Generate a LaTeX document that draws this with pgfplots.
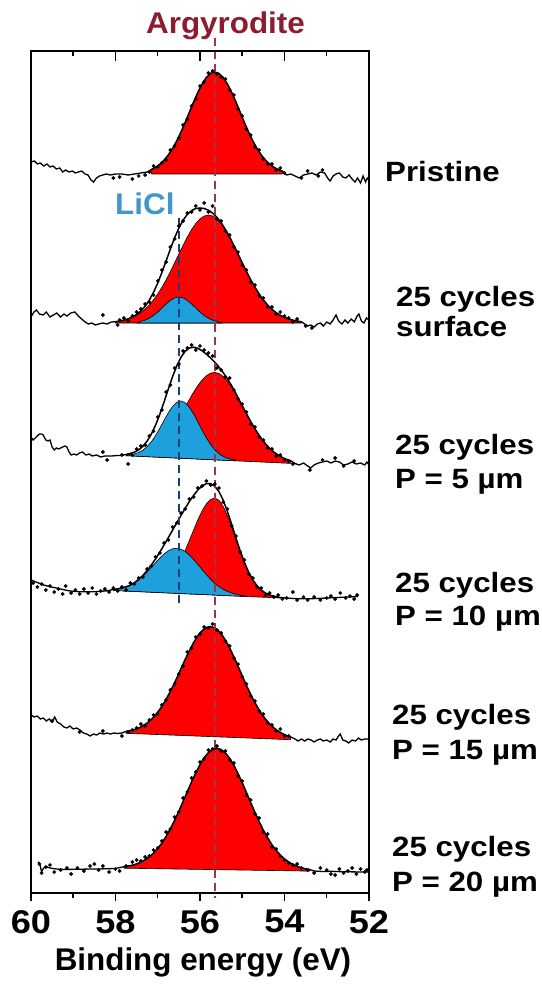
\documentclass[border=0pt]{standalone}
\usepackage{pgfplots}
\pgfplotsset{compat=1.18}
\usepackage{fontspec}
\setmainfont{Liberation Sans}
\newfontfamily\tickfont{Liberation Sans}[FakeStretch=1.1]
\newfontfamily\rlabfont{Liberation Sans}[FakeStretch=1.12]
\newfontfamily\annfont{Liberation Sans}[FakeStretch=1.05]
\definecolor{xred}{RGB}{255,0,0}
\definecolor{xblue}{RGB}{30,160,220}
\definecolor{argytext}{RGB}{140,28,46}
\definecolor{argyline}{RGB}{160,52,72}
\definecolor{licltext}{RGB}{65,150,206}
\definecolor{licline}{RGB}{30,60,120}
\pgfplotsset{
 fitline/.style={black, line width=1.5bp, mark=none},
 noiseline/.style={black, line width=1.3bp, mark=none},
 dots/.style={only marks, mark=*, mark size=1.7bp, black},
 redfill/.style={fill=xred, draw=black, line width=0.6bp, mark=none},
 bluefill/.style={fill=xblue, draw=black, line width=0.6bp, mark=none},
}
\begin{document}
\begin{tikzpicture}
\useasboundingbox (0,0) rectangle (542bp,989bp);
\begin{axis}[
 at={(31bp,96bp)}, anchor=south west,
 scale only axis, width=338bp, height=842bp,
 x dir=reverse, y dir=reverse,
 xmin=52, xmax=60, ymin=51, ymax=893,
 xtick={52,54,56,58,60}, minor x tick num=1,
 xtick pos=bottom, tick align=outside,
 ytick=\empty,
 major tick length=8bp, minor tick length=5bp,
 axis line style={line width=1.5bp},
 every tick/.style={black, line width=1.5bp},
 xticklabel style={font=\tickfont\bfseries\fontsize{33}{33}\selectfont, inner sep=0pt, yshift=-9bp},
 /pgf/number format/assume math mode=true,
 clip=false,
]
% ================= Spectrum 1: Pristine =================
\addplot[redfill] table {
x y
57.15 174
57.15 169.5
57.05 167.3
56.95 164.2
56.85 160.2
56.75 155.0
56.65 148.6
56.55 140.9
56.45 132.1
56.35 122.4
56.25 112.1
56.15 101.9
56.05 92.3
55.95 84.0
55.85 77.5
55.75 73.4
55.65 72.0
55.55 73.4
55.45 77.5
55.35 84.0
55.25 92.3
55.15 101.9
55.05 112.1
54.95 122.4
54.85 132.1
54.75 140.9
54.65 148.6
54.55 155.0
54.45 160.2
54.35 164.2
54.25 167.3
54.15 169.5
54.05 171.1
54.05 174
57.15 174
};
\addplot[noiseline] table {
x y
60.00 162
59.92 161
59.85 164
59.78 163
59.70 166
59.62 164
59.55 167
59.48 166
59.40 169
59.32 168
59.25 172
59.18 170
59.10 172
59.02 171
58.95 173
58.88 172
58.80 171
58.72 174
58.65 175
58.58 180
58.52 182
58.45 178
58.38 176
58.30 175
58.22 174
58.12 175
58.00 174
57.85 174
57.70 175
57.55 174
57.40 173
57.25 172
57.15 169.5
};
\addplot[fitline] table {
x y
57.15 169.5
57.05 167.3
56.95 164.2
56.85 160.2
56.75 155.0
56.65 148.6
56.55 140.9
56.45 132.1
56.35 122.4
56.25 112.1
56.15 101.9
56.05 92.3
55.95 84.0
55.85 77.5
55.75 73.4
55.65 72.0
55.55 73.4
55.45 77.5
55.35 84.0
55.25 92.3
55.15 101.9
55.05 112.1
54.95 122.4
54.85 132.1
54.75 140.9
54.65 148.6
54.55 155.0
54.45 160.2
54.35 164.2
54.25 167.3
54.15 169.5
54.05 171.1
};
\addplot[noiseline] table {
x y
54.05 171.1
53.95 175
53.85 174
53.75 176
53.65 178
53.55 175
53.45 174
53.35 173
53.25 175
53.15 172
53.05 173
52.98 178
52.92 181
52.85 176
52.78 174
52.70 173
52.62 177
52.55 178
52.47 175
52.40 179
52.33 182
52.27 178
52.20 183
52.14 176
52.08 182
52.04 178
52.00 180
};
\addplot[dots] table {
x y
58.05 178
57.90 177
57.60 179
57.45 176
57.30 175
57.20 172
57.10 166
57.00 167
56.90 163
56.80 160
56.70 150
56.60 146
56.50 138
56.40 125
56.30 119
56.20 106
56.10 99
56.00 86
55.90 82
55.80 73
55.70 71
55.60 74
55.50 77
55.40 79
55.30 90
55.20 95
55.10 109
55.00 116
54.90 129
54.80 135
54.70 147
54.60 150
54.50 159
54.40 164
54.30 164
54.20 170
54.10 168
54.00 173
53.60 178
53.45 171
53.20 176
53.10 170
};
% ================= Spectrum 2: surface =================
\addplot[redfill] table {
x y
58.0 323
58.0 321.7
57.9 321.1
57.8 320.2
57.7 319.0
57.6 317.4
57.5 315.3
57.4 312.6
57.3 309.2
57.2 305.0
57.1 299.9
57.0 294.0
56.9 287.2
56.8 279.7
56.7 271.5
56.6 262.8
56.5 254.0
56.4 245.3
56.3 237.0
56.2 229.7
56.1 223.5
56.0 218.9
55.9 216.0
55.8 215.0
55.7 216.0
55.6 218.9
55.5 223.5
55.4 229.7
55.3 237.0
55.2 245.3
55.1 254.0
55.0 262.8
54.9 271.5
54.8 279.7
54.7 287.2
54.6 294.0
54.5 299.9
54.4 305.0
54.3 309.2
54.2 312.6
54.1 315.3
54.0 317.4
53.9 319.0
53.8 320.2
53.7 321.1
53.6 321.7
53.6 323
58.0 323
};
\addplot[bluefill] table {
x y
57.5 323
57.4 321.4
57.3 320.2
57.2 318.2
57.1 315.5
57.0 312.1
56.9 308.0
56.8 304.0
56.7 300.4
56.6 297.9
56.5 297.0
56.4 297.9
56.3 300.4
56.2 304.0
56.1 308.0
56.0 312.1
55.9 315.5
55.8 318.2
55.7 320.2
55.6 321.4
55.5 323
57.5 323
};
\addplot[noiseline] table {
x y
60.00 317
59.93 312
59.87 310
59.80 314
59.71 315
59.64 312
59.55 317
59.47 315
59.39 313
59.30 317
59.22 314
59.15 316
59.06 313
58.96 312
58.88 316
58.80 319
58.72 322
58.64 324
58.56 323
58.48 325
58.40 324
58.30 323
58.20 324
58.10 322
58.00 321.7
};
\addplot[fitline] table {
x y
58.0 321.7
57.9 321.1
57.8 320.2
57.7 318.8
57.6 317.0
57.5 314.5
57.4 311.0
57.3 306.4
57.2 300.2
57.1 292.4
57.0 283.1
56.9 272.2
56.8 260.7
56.7 248.9
56.6 237.7
56.5 228.0
56.4 220.2
56.3 214.4
56.2 210.7
56.1 208.5
56.0 208.0
55.9 208.5
55.8 210.2
55.7 213.2
55.6 217.3
55.5 222.7
55.4 229.3
55.3 237.0
55.2 245.3
55.1 254.0
55.0 262.8
54.9 271.5
54.8 279.7
54.7 287.2
54.6 294.0
54.5 299.9
54.4 305.0
54.3 309.2
54.2 312.6
54.1 315.3
54.0 317.4
53.9 319.0
53.8 320.2
53.7 321.1
53.6 321.7
};
\addplot[noiseline] table {
x y
53.60 321.7
53.52 324
53.45 326
53.38 325
53.30 327
53.22 324
53.15 323
53.08 326
53.00 322
52.92 324
52.85 320
52.78 315
52.72 321
52.64 324
52.57 320
52.50 323
52.42 319
52.35 322
52.28 316
52.24 314
52.18 321
52.12 323
52.06 318
52.00 320
};
\addplot[dots] table {
x y
58.30 315
57.95 325
57.90 320
57.80 318
57.70 321
57.60 316
57.50 312
57.40 309
57.30 304
57.20 302
57.10 295
57.00 281
56.90 270
56.80 262
56.70 247
56.60 239
56.50 226
56.40 221
56.30 213
56.20 212
56.10 206
56.00 210
55.90 203
55.80 212
55.70 206
55.60 219
55.50 221
55.40 231
55.30 235
55.20 247
55.10 252
55.00 265
54.90 270
54.80 282
54.70 285
54.60 296
54.50 298
54.40 307
54.30 307
54.20 314
54.10 312
54.00 316
53.90 318
53.80 322
53.70 319
53.50 326
53.35 328
};
% ================= Spectrum 3: P = 5 um =================
\addplot[redfill] table {
x y
57.75 455.7
57.75 455.0
57.65 454.7
57.55 454.3
57.45 453.7
57.35 452.7
57.25 451.2
57.15 449.2
57.05 446.6
56.95 443.2
56.85 439.1
56.75 434.0
56.65 428.2
56.55 421.7
56.45 414.5
56.35 407.0
56.25 399.4
56.15 392.1
56.05 385.5
55.95 379.9
55.85 375.7
55.75 373.1
55.65 372.4
55.55 373.5
55.45 376.5
55.35 381.0
55.25 387.0
55.15 394.0
55.05 401.7
54.95 409.7
54.85 417.6
54.75 425.2
54.65 432.1
54.55 438.3
54.45 443.8
54.35 448.3
54.25 452.1
54.15 455.1
54.05 457.5
53.95 459.4
53.85 460.8
53.85 463.4
57.75 455.7
};
\addplot[bluefill] table {
x y
57.75 455.7
57.75 455.1
57.65 454.7
57.55 453.9
57.45 452.5
57.35 450.1
57.25 446.5
57.15 441.7
57.05 435.5
56.95 428.2
56.85 420.3
56.75 412.8
56.65 406.5
56.55 402.3
56.45 401.0
56.35 402.7
56.25 407.3
56.15 414.0
56.05 421.9
55.95 430.2
55.85 437.9
55.75 444.5
55.65 449.7
55.55 453.7
55.45 456.5
55.35 458.2
55.25 459.4
55.15 460.2
55.15 460.8
57.75 455.7
};
\addplot[noiseline] table {
x y
60.00 437
59.95 440
59.90 438
59.85 436
59.80 434
59.75 434
59.71 435
59.65 440
59.60 441
59.55 440
59.50 447
59.45 450
59.40 448
59.35 449
59.30 448
59.25 447
59.20 446
59.15 447
59.10 452
59.05 455
58.98 454
58.92 455
58.85 453
58.78 452
58.70 455
58.62 454
58.55 456
58.45 455
58.35 457
58.25 456
58.10 456
57.95 455.5
57.85 455.5
57.75 454.4
};
\addplot[fitline] table {
x y
57.75 454.4
57.65 453.5
57.55 452.1
57.45 449.9
57.35 446.3
57.25 441.0
57.15 434.0
57.05 425.0
56.95 414.1
56.85 401.9
56.75 389.1
56.65 376.8
56.55 365.9
56.45 357.2
56.35 351.2
56.25 348.0
56.15 347.2
56.05 348.3
55.95 350.8
55.85 354.1
55.75 357.9
55.65 362.2
55.55 367.1
55.45 372.7
55.35 378.8
55.25 385.8
55.15 393.4
55.05 401.7
54.95 409.7
54.85 417.6
54.75 425.2
54.65 432.1
54.55 438.3
54.45 443.8
54.35 448.3
54.25 452.1
54.15 455.1
54.05 457.5
53.95 459.4
53.85 460.8
};
\addplot[noiseline] table {
x y
53.85 460.8
53.75 463.5
53.65 465
53.55 463
53.45 466
53.38 468
53.30 465
53.20 463
53.10 462
53.00 461
52.90 463
52.80 461
52.70 462
52.60 465
52.50 464
52.40 462
52.30 464
52.20 463
52.10 465
52.05 462
52.00 465
};
\addplot[dots] table {
x y
58.30 452
58.20 460
57.85 455
57.70 464
57.60 455
57.50 449
57.40 446
57.30 445
57.20 436
57.10 431
57.00 417
56.90 410
56.80 392
56.70 385
56.60 368
56.50 364
56.40 351
56.30 348
56.20 345
56.10 350
56.00 346
55.90 350
55.80 353
55.70 356
55.60 368
55.50 370
55.40 377
55.30 378
55.20 390
55.10 399
55.00 404
54.90 412
54.80 424
54.70 427
54.60 437
54.50 440
54.40 448
54.30 449
54.20 456
54.10 455
54.00 460
53.90 461
53.80 464
53.40 470
53.10 460
52.80 458
52.60 466
52.35 461
};
% ================= Spectrum 4: P = 10 um =================
\addplot[redfill] table {
x y
57.85 590.9
57.85 590.8
57.65 591.2
57.45 591.2
57.35 591.1
57.25 590.6
57.15 589.8
57.05 588.6
56.95 586.7
56.85 583.8
56.75 579.9
56.65 574.6
56.55 567.9
56.45 559.9
56.35 550.5
56.25 540.3
56.15 529.9
56.05 519.8
55.95 510.8
55.85 503.8
55.75 499.4
55.65 498.0
55.55 500.3
55.45 506.4
55.35 515.7
55.25 527.2
55.15 539.6
55.05 551.7
54.95 562.9
54.85 572.4
54.75 580.1
54.65 585.9
54.55 590.1
54.45 593.0
54.35 595.0
54.25 596.3
54.15 597.2
54.05 597.7
54.05 598.1
57.85 590.9
};
\addplot[bluefill] table {
x y
58.05 590.5
58.05 589.4
57.95 588.9
57.85 588.1
57.75 586.9
57.65 585.2
57.55 582.9
57.45 579.9
57.35 576.2
57.25 571.9
57.15 567.3
57.05 562.6
56.95 558.0
56.85 553.9
56.75 550.8
56.65 548.8
56.55 548.3
56.45 549.2
56.35 551.5
56.25 555.0
56.15 559.5
56.05 564.5
55.95 569.6
55.85 574.6
55.75 579.2
55.65 583.3
55.55 586.7
55.45 589.3
55.35 591.4
55.25 593.0
55.15 594.2
55.05 595.1
54.95 595.7
54.95 596.4
58.05 590.5
};
\addplot[noiseline] table {
x y
60.00 580
59.85 582.5
59.70 585
59.55 586.7
59.40 588
59.25 589.5
59.10 590.8
58.95 591.5
58.80 591.8
58.60 591.8
58.40 591.5
58.20 590.8
58.05 589.4
};
\addplot[fitline] table {
x y
58.05 589.4
57.95 588.9
57.85 588.0
57.75 586.8
57.65 585.1
57.55 582.6
57.45 579.4
57.35 575.4
57.25 570.5
57.15 564.9
57.05 558.8
56.95 552.1
56.85 544.9
56.75 537.7
56.65 530.2
56.55 522.8
56.45 515.5
56.35 508.3
56.25 501.4
56.15 495.3
56.05 490.0
55.95 485.9
55.85 483.7
55.75 483.7
55.65 486.2
55.55 491.7
55.45 500.3
55.35 511.5
55.25 524.4
55.15 537.8
55.05 550.6
54.95 562.2
54.85 572.0
54.75 579.9
54.65 585.8
54.55 590.1
54.45 593.0
54.35 595.0
54.25 596.3
54.15 597.2
54.05 597.7
};
\addplot[noiseline] table {
x y
54.05 597.7
53.80 598.5
53.60 598.8
53.40 598.8
53.20 598.4
53.00 598
52.80 597.6
52.60 597.2
52.40 596.8
52.26 596.5
};
\addplot[dots] table {
x y
59.95 583
59.85 587
59.75 584
59.65 590
59.55 586
59.45 592
59.35 589
59.25 594
59.18 586
59.05 593
58.95 590
58.85 594
58.75 589
58.65 593
58.55 588
58.45 594
58.35 591
58.25 589
58.15 592
58.05 588
57.95 591
57.85 587
57.75 590
57.65 583
57.55 584
57.45 578
57.35 577
57.25 569
57.15 566
57.05 557
56.95 553
56.85 543
56.75 540
56.65 527
56.55 523
56.45 513
56.35 509
56.25 499
56.15 497
56.05 488
55.95 486
55.85 481
55.75 485
55.65 484
55.55 488
55.45 502
55.35 509
55.25 526
55.15 536
55.05 552
54.95 560
54.85 574
54.75 578
54.65 587
54.55 588
54.45 595
54.35 593
54.25 597
54.15 595
54.05 599
53.95 598
53.80 592
53.70 600
53.55 597
53.45 600
53.30 597
53.15 600
53.00 598
52.90 596
52.80 599
52.68 593
52.55 598
52.45 596
52.35 599
52.28 595
};
% ================= Spectrum 5: P = 15 um =================
\addplot[redfill] table {
x y
57.75 733.3
57.75 731.4
57.65 730.6
57.55 729.6
57.45 728.0
57.35 725.8
57.25 723.0
57.15 719.4
57.05 714.8
56.95 709.3
56.85 702.8
56.75 695.3
56.65 687.0
56.55 678.1
56.45 668.7
56.35 659.4
56.25 650.6
56.15 642.5
56.05 635.7
55.95 630.7
55.85 627.5
55.75 626.6
55.65 627.9
55.55 631.3
55.45 636.7
55.35 643.8
55.25 652.2
55.15 661.4
55.05 671.0
54.95 680.7
54.85 690.0
54.75 698.6
54.65 706.4
54.55 713.3
54.45 719.1
54.35 724.0
54.25 728.0
54.15 731.1
54.05 733.6
53.95 735.6
53.85 736.9
53.85 739.7
57.75 733.3
};
\addplot[noiseline] table {
x y
60.00 715
59.92 717
59.85 716
59.78 719
59.71 718
59.64 721
59.57 719
59.50 722
59.44 717
59.38 722
59.30 724
59.22 727
59.15 728
59.08 726
59.00 729
58.92 728
58.84 730
58.76 733
58.68 734
58.60 736
58.52 734
58.45 735
58.37 733
58.28 734
58.20 733
58.12 734
58.04 733
57.95 733.5
57.85 733
57.75 731.4
};
\addplot[fitline] table {
x y
57.75 731.4
57.65 730.6
57.55 729.6
57.45 728.0
57.35 725.8
57.25 723.0
57.15 719.4
57.05 714.8
56.95 709.3
56.85 702.8
56.75 695.3
56.65 687.0
56.55 678.1
56.45 668.7
56.35 659.4
56.25 650.6
56.15 642.5
56.05 635.7
55.95 630.7
55.85 627.5
55.75 626.6
55.65 627.9
55.55 631.3
55.45 636.7
55.35 643.8
55.25 652.2
55.15 661.4
55.05 671.0
54.95 680.7
54.85 690.0
54.75 698.6
54.65 706.4
54.55 713.3
54.45 719.1
54.35 724.0
54.25 728.0
54.15 731.1
54.05 733.6
53.95 735.6
53.85 736.9
};
\addplot[noiseline] table {
x y
53.85 736.9
53.75 739
53.68 741
53.60 739
53.52 741
53.45 739
53.37 740
53.30 742
53.22 740
53.15 739
53.08 741
53.00 740
52.92 742
52.85 739
52.78 740
52.72 736
52.68 734
52.62 740
52.55 741
52.48 743
52.40 740
52.32 741
52.25 738
52.18 740
52.10 739
52.00 739
};
\addplot[dots] table {
x y
59.50 721
58.85 732
58.30 731
57.85 736
57.70 732
57.60 730
57.50 728
57.40 724
57.30 726
57.20 720
57.10 715
57.00 714
56.90 705
56.80 700
56.70 690
56.60 684
56.50 674
56.40 666
56.30 652
56.20 648
56.10 637
56.00 634
55.90 627
55.80 628
55.70 624
55.60 630
55.50 633
55.40 641
55.30 646
55.20 658
55.10 664
55.00 677
54.90 684
54.80 696
54.70 701
54.60 711
54.50 714
54.40 723
54.30 725
54.20 731
54.10 729
54.00 736
53.90 736
};
% ================= Spectrum 6: P = 20 um =================
\addplot[redfill] table {
x y
57.8 868.2
57.8 866.7
57.7 866.1
57.6 865.2
57.5 863.9
57.4 862.2
57.3 859.8
57.2 856.9
57.1 853.1
57.0 848.4
56.9 842.9
56.8 836.3
56.7 828.7
56.6 820.3
56.5 811.1
56.4 801.5
56.3 791.7
56.2 781.9
56.1 772.8
56.0 764.6
55.9 757.7
55.8 752.6
55.7 749.4
55.6 748.3
55.5 749.5
55.4 752.9
55.3 758.1
55.2 765.1
55.1 773.5
55.0 782.7
54.9 792.6
54.8 802.6
54.7 812.3
54.6 821.6
54.5 830.2
54.4 837.8
54.3 844.6
54.2 850.2
54.1 855.0
54.0 859.0
53.9 862.0
53.8 864.5
53.7 866.4
53.6 867.8
53.5 868.8
53.4 869.6
53.4 871.1
57.8 868.2
};
\addplot[noiseline] table {
x y
59.83 861.7
59.78 866
59.75 871.7
59.70 868
59.65 866.7
59.55 868
59.40 869
59.20 869.5
59.00 869.3
58.80 869.2
58.60 869
58.40 869
58.20 868.7
58.00 868.5
57.80 866.7
};
\addplot[fitline] table {
x y
57.8 866.7
57.7 866.1
57.6 865.2
57.5 863.9
57.4 862.2
57.3 859.8
57.2 856.9
57.1 853.1
57.0 848.4
56.9 842.9
56.8 836.3
56.7 828.7
56.6 820.3
56.5 811.1
56.4 801.5
56.3 791.7
56.2 781.9
56.1 772.8
56.0 764.6
55.9 757.7
55.8 752.6
55.7 749.4
55.6 748.3
55.5 749.5
55.4 752.9
55.3 758.1
55.2 765.1
55.1 773.5
55.0 782.7
54.9 792.6
54.8 802.6
54.7 812.3
54.6 821.6
54.5 830.2
54.4 837.8
54.3 844.6
54.2 850.2
54.1 855.0
54.0 859.0
53.9 862.0
53.8 864.5
53.7 866.4
53.6 867.8
53.5 868.8
53.4 869.6
};
\addplot[noiseline] table {
x y
53.40 869.6
53.30 871
53.10 871.5
52.90 871.3
52.70 871.6
52.50 871.8
52.30 871.9
52.10 872
52.00 872
};
\addplot[dots] table {
x y
59.80 864
59.75 873
59.65 867
59.55 865
59.45 872
59.30 870
59.15 868
59.05 874
58.90 868
58.75 871
58.60 866
58.50 864
58.40 870
58.30 866
58.15 872
58.00 869
57.90 871
57.75 866
57.60 862
57.50 860
57.40 861
57.30 857
57.20 856
57.10 850
57.00 848
56.90 841
56.80 832
56.70 829
56.60 817
56.50 812
56.40 798
56.30 792
56.20 778
56.10 772
56.00 762
55.90 759
55.80 750
55.70 749
55.60 746
55.50 751
55.40 751
55.30 760
55.20 763
55.10 776
55.00 781
54.90 795
54.80 800
54.70 814
54.60 818
54.50 832
54.40 834
54.30 847
54.20 849
54.10 856
54.00 860
53.90 863
53.80 865
53.70 864
53.60 868
53.45 870
53.30 873
53.15 868
53.00 870
52.90 874
52.80 875
52.70 869
52.60 873
52.50 871
52.40 868
52.30 874
52.20 869
52.10 872
52.05 870
};
% ================= reference lines =================
\addplot[argyline, line width=1.9bp, dash pattern=on 8bp off 5bp] coordinates {(55.65,38) (55.65,898)};
\addplot[licline, line width=1.9bp, dash pattern=on 8bp off 5bp] coordinates {(56.5,218) (56.5,607)};
\end{axis}
% top ticks (inside)
\begin{axis}[
 at={(31bp,96bp)}, anchor=south west,
 scale only axis, width=338bp, height=842bp,
 x dir=reverse, y dir=reverse,
 xmin=52, xmax=60, ymin=51, ymax=893,
 xtick={52,54,56,58,60}, minor x tick num=1,
 xtick pos=top, tick align=inside,
 xticklabels={}, ytick=\empty,
 major tick length=10.5bp, minor tick length=5.5bp,
 axis line style={line width=1.5bp},
 every tick/.style={black, line width=1.5bp},
]
\end{axis}
% annotations
\node[anchor=base, inner sep=0pt, text=argytext, font=\annfont\bfseries\fontsize{30}{32}\selectfont] at (225.5bp,955bp) {Argyrodite};
\node[anchor=base west, inner sep=0pt, text=licltext, font=\annfont\bfseries\fontsize{30}{32}\selectfont] at (115bp,774bp) {LiCl};
\node[anchor=base, inner sep=0pt, font=\bfseries\fontsize{31.5}{33}\selectfont] at (203bp,19bp) {Binding energy (eV)};
\begin{scope}[every node/.style={anchor=base west, inner sep=0pt, font=\rlabfont\bfseries\fontsize{28}{30}\selectfont}]
\node at (385bp,807bp) {Pristine};
\node at (396bp,682bp) {25 cycles};
\node at (396bp,652bp) {surface};
\node at (395bp,534bp) {25 cycles};
\node at (395bp,500bp) {P = 5 µm};
\node at (395bp,396bp) {25 cycles};
\node at (395bp,363bp) {P = 10 µm};
\node at (392bp,264bp) {25 cycles};
\node at (392bp,229bp) {P = 15 µm};
\node at (392bp,132bp) {25 cycles};
\node at (392bp,97bp) {P = 20 µm};
\end{scope}
\end{tikzpicture}
\end{document}
